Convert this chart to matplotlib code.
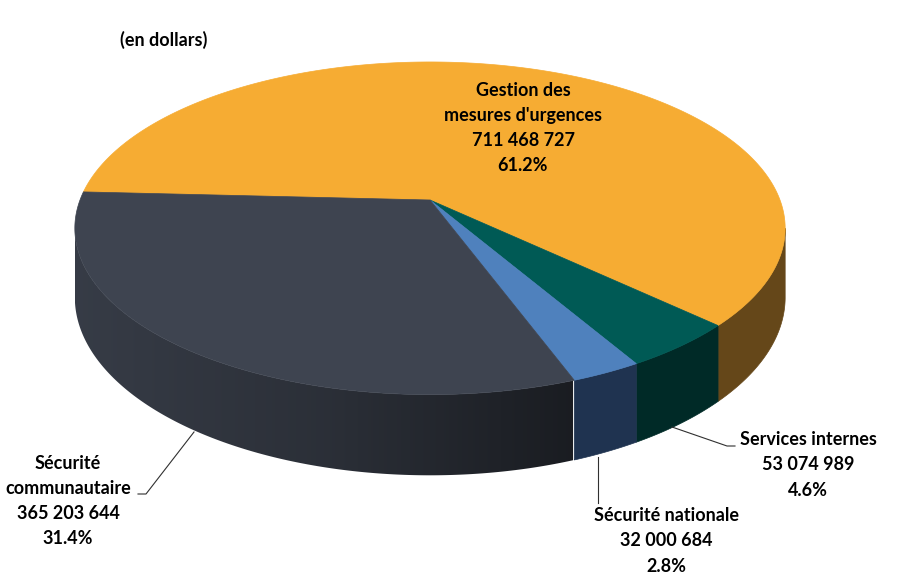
import numpy as np
import matplotlib
matplotlib.use("Agg")
import matplotlib.pyplot as plt
from matplotlib.patches import Polygon
from matplotlib.colors import LinearSegmentedColormap

# ---- data ----
categories = ["Gestion des\nmesures d'urgences", "Services internes",
              "Sécurité nationale", "Sécurité\ncommunautaire"]
values = [711468727, 53074989, 32000684, 365203644]
top_colors = ["#F6AC33", "#005A55", "#4F81BD", "#3E4450"]
side_colors = ["#654719", "#002A27", "#1F3350", "#2E323B"]
subtitle = "(en dollars)"

# ---- geometry (pixel space) ----
W_PX, H_PX = 898, 588
cx, cy = 430.0, 200.0
W, H, E, T = 350.0, 161.5, 0.17, 67.0
start_deg = 177.1

fig = plt.figure(figsize=(W_PX / 100, H_PX / 100), dpi=100)
ax = fig.add_axes([0, 0, 1, 1])
ax.set_xlim(0, W_PX)
ax.set_ylim(H_PX, 0)
ax.axis("off")


def proj(phi_deg, depth=0.0):
    p = np.radians(phi_deg)
    den = 1 + E * np.sin(p)
    x = cx + W * np.cos(p) / den
    y = cy - H * np.sin(p) / den + depth * T / den
    return x, y


total = float(sum(values))
fracs = [v / total for v in values]
bounds = [start_deg]
for f in fracs:
    bounds.append(bounds[-1] - 360 * f)

vis_lo, vis_hi = -180 + np.degrees(np.arcsin(E)), -np.degrees(np.arcsin(E))


def norm_range(a0, a1):
    res = []
    for k in (-360, 0, 360):
        lo, hi = a1 + k, a0 + k
        lo2, hi2 = max(lo, vis_lo), min(hi, vis_hi)
        if hi2 > lo2:
            res.append((lo2, hi2))
    return res


xl, _ = proj(vis_lo)
xr, _ = proj(vis_hi)
dark = np.array(matplotlib.colors.to_rgb("#3E4450"))
grad_cmap = LinearSegmentedColormap.from_list(
    "g", [tuple(dark * 0.88), tuple(dark * 0.70), tuple(dark * 0.42)])

for i in range(len(values)):
    for lo, hi in norm_range(bounds[i], bounds[i + 1]):
        angs = np.linspace(lo, hi, 200)
        top = [proj(a) for a in angs]
        bot = [proj(a, 1) for a in angs[::-1]]
        pts = top + bot
        if i == 3:
            poly = Polygon(pts, closed=True, facecolor="none", edgecolor="none")
            ax.add_patch(poly)
            grad = np.linspace(0, 1, 256)[None, :]
            y0 = min(p[1] for p in pts) - 2
            y1 = max(p[1] for p in pts) + 2
            im = ax.imshow(grad, cmap=grad_cmap, aspect="auto",
                           extent=(xl, xl + (xr - xl) * 0.70, y1, y0),
                           interpolation="bilinear", zorder=1)
            im.set_clip_path(poly)
            ax.set_xlim(0, W_PX)
            ax.set_ylim(H_PX, 0)
        else:
            ax.add_patch(Polygon(pts, closed=True, facecolor=side_colors[i],
                                 edgecolor=side_colors[i], linewidth=0.5,
                                 zorder=1))

for i in range(len(values)):
    angs = np.linspace(bounds[i], bounds[i + 1], 300)
    pts = [(cx, cy)] + [proj(a) for a in angs]
    ax.add_patch(Polygon(pts, closed=True, facecolor=top_colors[i],
                         edgecolor=top_colors[i], linewidth=0.5, zorder=2))


def fmt(v):
    return f"{v:,}".replace(",", " ")


font = dict(family=["Lato", "DejaVu Sans"], fontweight="bold", fontsize=13,
            color="black", linespacing=1.58, zorder=5)

labels = [f"{c}\n{fmt(v)}\n{f * 100:.1f}%" for c, v, f in zip(categories, values, fracs)]

ax.text(523, 128, labels[0], ha="center", va="center", **font)
ax.text(808, 465, labels[1], ha="center", va="center", **font)
ax.text(666, 541, labels[2], ha="center", va="center", **font)
ax.text(68, 501, labels[3], ha="center", va="center", **font)
ax.text(120, 40, subtitle, ha="left", va="center", **font)

lc = dict(color="#303030", linewidth=0.8, zorder=4)
ax.plot([138, 146, 194], [494, 494, 432], **lc)
ax.plot([735, 727, 672], [446, 446, 427], **lc)
ax.plot([598, 598], [503, 457], **lc)

fig.savefig("out.png", dpi=100, facecolor="white")
